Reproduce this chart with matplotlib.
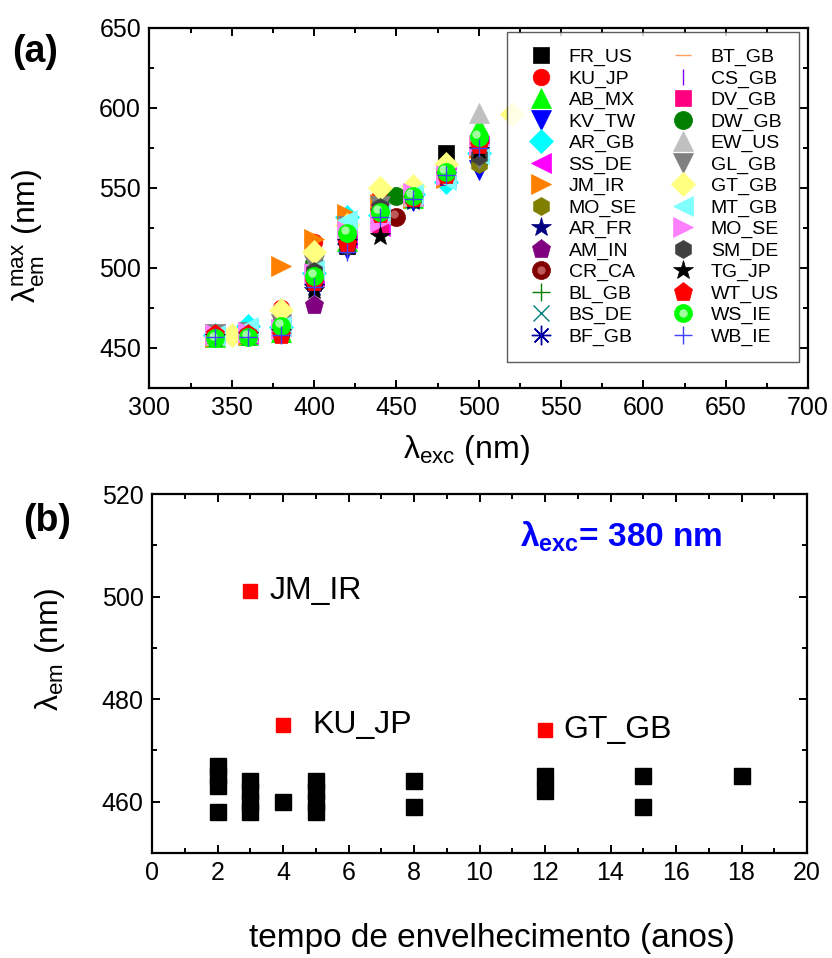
import numpy as np
import matplotlib
matplotlib.use('Agg')
import matplotlib.pyplot as plt
from matplotlib.ticker import MultipleLocator
from matplotlib.transforms import offset_copy
from matplotlib.legend_handler import HandlerTuple

plt.rcParams['font.family'] = ['Liberation Sans', 'DejaVu Sans']
plt.rcParams['mathtext.default'] = 'regular'

n = np.nan

# (a) excitation wavelengths (nm) and emission maxima (nm) of each sample
exc = [340, 350, 360, 380, 400, 420, 440, 450, 460, 480, 500, 520]
names = ['FR_US', 'KU_JP', 'AB_MX', 'KV_TW', 'AR_GB', 'SS_DE', 'JM_IR',
         'MO_SE', 'AR_FR', 'AM_IN', 'CR_CA', 'BL_GB', 'BS_DE', 'BF_GB',
         'BT_GB', 'CS_GB', 'DV_GB', 'DW_GB', 'EW_US', 'GL_GB', 'GT_GB',
         'MT_GB', 'MO_SE', 'SM_DE', 'TG_JP', 'WT_US', 'WS_IE', 'WB_IE']
em_max = [
    [458, n, 458, 459, 492, 514, 538, n, 545, 572, 570, n],
    [458, n, 459, 475, 516, 520, 545, n, 543, 560, 578, n],
    [457, n, 458, 460, 500, 517, 535, n, 544, 562, 588, n],
    [457, n, 458, 461, 490, 512, 528, n, 542, 553, 561, n],
    [458, n, 464, 463, 497, 532, 533, n, 546, 554, 572, n],
    [459, n, 459, 464, 495, 519, 526, n, 545, 557, 576, n],
    [457, n, 458, 501, 518, 534, 540, n, 544, 556, 575, n],
    [457, n, 458, 460, 493, 516, 534, n, 544, 558, 565, n],
    [456, n, 457, 462, 488, 514, 530, n, 542, 557, 572, n],
    [458, n, 459, 465, 477, 518, 538, n, 545, 557, 573, n],
    [458, n, 459, 462, 494, 516, n, 532, 544, 558, 572, n],
    [458, n, 458, 465, 496, 518, 536, n, 544, 558, 574, n],
    [457, n, 458, 463, 495, 515, 537, n, 543, 559, 575, n],
    [457, n, 458, 460, 490, 515, 537, n, 543, 558, 575, n],
    [458, n, 458, 461, 494, 519, 539, n, 544, 556, 578, n],
    [459, n, 459, 462, 497, 520, 541, n, 546, 559, 577, n],
    [459, n, 460, 466, 500, 518, 527, n, 544, 559, 578, n],
    [458, n, 459, 464, 503, 521, n, 545, 546, 558, 580, n],
    [458, n, 460, 464, 505, 528, 540, n, 545, 560, 597, n],
    [459, n, 460, 465, 502, 526, 539, n, 545, 560, 568, n],
    [n, 458, n, 474, 510, 527, 550, n, 551, 565, n, 596],
    [458, n, 463, 464, 499, 530, 534, n, 546, 555, 571, n],
    [459, n, 460, 462, 497, 523, 529, n, 547, 558, 577, n],
    [458, n, 459, 460, 498, 514, 538, n, 544, 559, 570, n],
    [457, n, 458, 460, 486, 516, 520, n, 543, 558, 574, n],
    [459, n, 459, 458, 491, 515, 534, n, 544, 558, 577, n],
    [456, n, 457, 464, 495, 522, 535, n, 545, 560, 582, n],
    [457, n, 457, 458, 488, 510, 532, n, 543, 558, 575, n],
]

# (b) emission at 380 nm vs ageing time
age_black = [2, 2, 2, 2, 3, 3, 3, 3, 4, 5, 5, 5, 5, 8, 8, 12, 12, 15, 15, 18]
em_black = [467, 465, 463, 458, 464, 462, 460, 458, 460, 464, 462, 460, 458,
            464, 459, 465, 462, 465, 459, 465]
age_red = [3, 4, 12]
em_red = [501, 475, 474]
red_names = ['JM_IR', 'KU_JP', 'GT_GB']

# marker, colour, size
styles = [
    ('s', '#000000', 11), ('o', '#ff0000', 12), ('^', '#00ff00', 14),
    ('v', '#0000ff', 14), ('D', '#00ffff', 12), ('<', '#ff00ff', 14),
    ('>', '#ff8000', 14), ('h', '#808000', 13), ('*', '#000080', 15),
    ('p', '#800080', 14), ('o', '#800000', 13), ('+', '#008000', 13),
    ('x', '#008080', 11), ((8, 2, 0), '#0000a0', 14), ('_', '#ffa060', 12),
    ('|', '#8000ff', 12), ('s', '#ff0080', 11), ('o', '#007f00', 13),
    ('^', '#c0c0c0', 14), ('v', '#808080', 14), ('D', '#ffff80', 12),
    ('<', '#80ffff', 14), ('>', '#ff80ff', 14), ('h', '#404040', 13),
    ('*', '#000000', 15), ('p', '#ff0000', 14), ('o', '#00ff00', 13),
    ('+', '#4040ff', 13),
]
spheres = {10: '#d07070', 26: '#c8ffc8'}

fig = plt.figure(figsize=(8.32, 9.58), dpi=100)
ax1 = fig.add_axes([0.1796, 0.595, 0.7916, 0.3758])
ax2 = fig.add_axes([0.1827, 0.1096, 0.7873, 0.3747])

hl = offset_copy(ax1.transData, fig=fig, x=-1.8, y=1.8, units='points')
handles = []
for i, (name, vals) in enumerate(zip(names, em_max)):
    m, c, s = styles[i]
    thin = m in ('+', 'x', '_', '|') or isinstance(m, tuple)
    ln, = ax1.plot(exc, vals, ls='none', marker=m, ms=s, color=c,
                   mec=c, mew=1.0 if thin else 0.5, zorder=2 + i * 0.01)
    h = ln
    if i in spheres:
        sp, = ax1.plot(exc, vals, ls='none', marker='o', ms=6,
                       color=spheres[i], mec='none', alpha=0.8,
                       transform=hl, zorder=2 + i * 0.01 + 0.005)
        h = (ln, sp)
    handles.append(h)

ax1.set_xlim(300, 700)
ax1.set_ylim(425, 650)
ax1.xaxis.set_major_locator(MultipleLocator(50))
ax1.xaxis.set_minor_locator(MultipleLocator(25))
ax1.yaxis.set_major_locator(MultipleLocator(50))
ax1.yaxis.set_minor_locator(MultipleLocator(25))
ax1.set_xlabel(r'$λ_{exc}$ (nm)', fontsize=23)
ax1.set_ylabel(r'$λ_{em}^{max}$ (nm)', fontsize=23)
ax1.xaxis.set_label_coords(0.481, -0.125)
ax1.yaxis.set_label_coords(-0.155, 0.422)

leg = ax1.legend(handles, names, ncol=2, loc='upper right',
                 bbox_to_anchor=(0.986, 0.989), borderaxespad=0,
                 fontsize=14, frameon=True, fancybox=False,
                 labelspacing=0.19, handlelength=1.8, handletextpad=0.5,
                 columnspacing=1.5, borderpad=0.85,
                 handler_map={tuple: HandlerTuple(ndivide=1, pad=0)})
leg.get_frame().set_edgecolor('#333333')
leg.get_frame().set_linewidth(1.0)

# panel (b)
ax2.plot(age_black, em_black, ls='none', marker='s', ms=11, color='black')
ax2.plot(age_red, em_red, ls='none', marker='s', ms=10, color='#ff0000')
offs = [0.6, 0.9, 0.55]
for a, e, lab, d in zip(age_red, em_red, red_names, offs):
    ax2.text(a + d, e, lab, fontsize=23, ha='left', va='center')
ax2.text(0.562, 0.853, r'$λ_{exc}$= 380 nm', transform=ax2.transAxes,
         fontsize=24, fontweight='bold', color='#0000ff',
         ha='left', va='baseline')

ax2.set_xlim(0, 20)
ax2.set_ylim(450, 520)
ax2.xaxis.set_major_locator(MultipleLocator(2))
ax2.xaxis.set_minor_locator(MultipleLocator(1))
ax2.yaxis.set_major_locator(MultipleLocator(20))
ax2.yaxis.set_minor_locator(MultipleLocator(10))
ax2.set_xlabel('tempo de envelhecimento (anos)', fontsize=24)
ax2.set_ylabel(r'$λ_{em}$ (nm)', fontsize=23)
ax2.xaxis.set_label_coords(0.519, -0.196)
ax2.yaxis.set_label_coords(-0.130, 0.568)

for ax in (ax1, ax2):
    for sp in ax.spines.values():
        sp.set_linewidth(1.6)
    ax.tick_params(which='both', direction='in', top=True, right=True,
                   width=1.4, labelsize=18)
    ax.tick_params(which='major', length=6, pad=6)
    ax.tick_params(which='minor', length=3.5)

fig.text(35 / 832, 1 - 52 / 958, '(a)', fontsize=27, fontweight='bold',
         ha='center', va='center')
fig.text(47 / 832, 1 - 521 / 958, '(b)', fontsize=27, fontweight='bold',
         ha='center', va='center')

fig.savefig('out.png', dpi=100)
